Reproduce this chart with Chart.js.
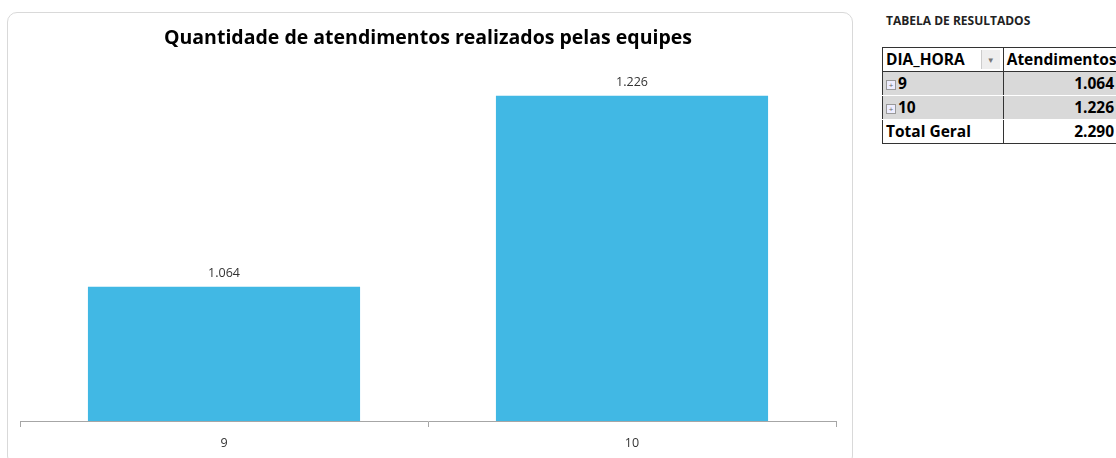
<!DOCTYPE html>
<html>
<head>
<meta charset="utf-8">
<script src="https://cdn.jsdelivr.net/npm/chart.js@4"></script>
<style>
  body { margin: 0; background: #fff; width: 1116px; height: 458px; overflow: hidden; position: relative; font-family: "Open Sans", sans-serif; }
  .caixa { position: absolute; left: 7px; top: 12px; width: 844px; height: 452px; border: 1px solid #d9d9d9; border-radius: 10px; }
  #grafico { position: absolute; left: 0; top: 0; }
  .titulo-tabela { position: absolute; left: 886px; top: 12px; font-size: 12px; font-weight: bold; color: #222; white-space: nowrap; }
  table { position: absolute; left: 882px; top: 47px; width: 262px; table-layout: fixed; border-collapse: collapse; font-weight: bold; font-size: 15.5px; color: #000; }
  td { border: 1px solid #333; height: 23px; padding: 0 3px; line-height: 23px; white-space: nowrap; overflow: hidden; }
  td.c1 { width: 110px; }
  td.c2 { width: 132px; text-align: right; padding-right: 29px; }
  tr.cinza td { background: #d9d9d9; border-top: 1px solid #fff; border-bottom: 1px solid #fff; }
  .seta { float: right; width: 18px; height: 19px; margin-top: 2px; background: #eee; border-left: 1px solid #ccc; color: #777; font-size: 8px; text-align: center; line-height: 19px; }
  .mais { display: inline-block; width: 8px; height: 8px; border: 1px solid #999; font-size: 8px; line-height: 7px; text-align: center; color: #666; margin-right: 2px; vertical-align: 1px; font-weight: normal; background: #eef; }
</style>
</head>
<body>
<div class="caixa"></div>
<canvas id="grafico" width="860" height="462"></canvas>
<div class="titulo-tabela">TABELA DE RESULTADOS</div>
<table id="tabela"></table>
<script>
let horas = ["9", "10"];
let atendimentos = [1064, 1226];
let titulo = "Quantidade de atendimentos realizados pelas equipes";

let fmt = v => Number(v).toLocaleString('pt-BR');

// rotulos em cima das barras
let rotulos = {
  id: 'rotulos',
  afterDatasetsDraw(chart) {
    let ctx = chart.ctx;
    ctx.save();
    ctx.font = '12.5px "Open Sans", sans-serif';
    ctx.fillStyle = '#333';
    ctx.textAlign = 'center';
    ctx.textBaseline = 'bottom';
    chart.getDatasetMeta(0).data.forEach((bar, i) => {
      ctx.fillText(fmt(atendimentos[i]), bar.x, bar.y - 7);
    });
    ctx.restore();
  }
};

new Chart(document.getElementById('grafico').getContext('2d'), {
  type: 'bar',
  data: {
    labels: horas,
    datasets: [{
      data: atendimentos,
      backgroundColor: '#41b8e4',
      categoryPercentage: 1,
      barPercentage: 0.667
    }]
  },
  options: {
    responsive: false,
    animation: false,
    layout: { padding: { left: 20, right: 24, top: 0, bottom: 2 } },
    plugins: {
      legend: { display: false },
      tooltip: { enabled: false },
      title: {
        display: true,
        text: titulo,
        color: '#000',
        font: { family: '"Open Sans", sans-serif', size: 19.5, weight: 'bold' },
        padding: { top: 27, bottom: 17 }
      }
    },
    scales: {
      y: { display: false, min: 950, max: 1250 },
      x: {
        border: { color: '#a6a6a6', width: 1 },
        grid: { drawOnChartArea: false, color: '#a6a6a6', tickLength: 6 },
        ticks: { color: '#333', font: { family: '"Open Sans", sans-serif', size: 12.5 }, padding: 9 }
      }
    }
  },
  plugins: [rotulos]
});

let total = atendimentos.reduce((acc, v) => acc + v, 0);
let linhas = `<tr><td class="c1">DIA_HORA<span class="seta">&#9660;</span></td><td class="c2" style="text-align:left;padding-right:0">Atendimentos</td></tr>`;
horas.forEach((h, i) => {
  linhas += `<tr class="cinza"><td class="c1"><span class="mais">+</span>${h}</td><td class="c2">${fmt(atendimentos[i])}</td></tr>`;
});
linhas += `<tr><td class="c1">Total Geral</td><td class="c2">${fmt(total)}</td></tr>`;
document.querySelector('#tabela').innerHTML = linhas;
</script>
</body>
</html>
